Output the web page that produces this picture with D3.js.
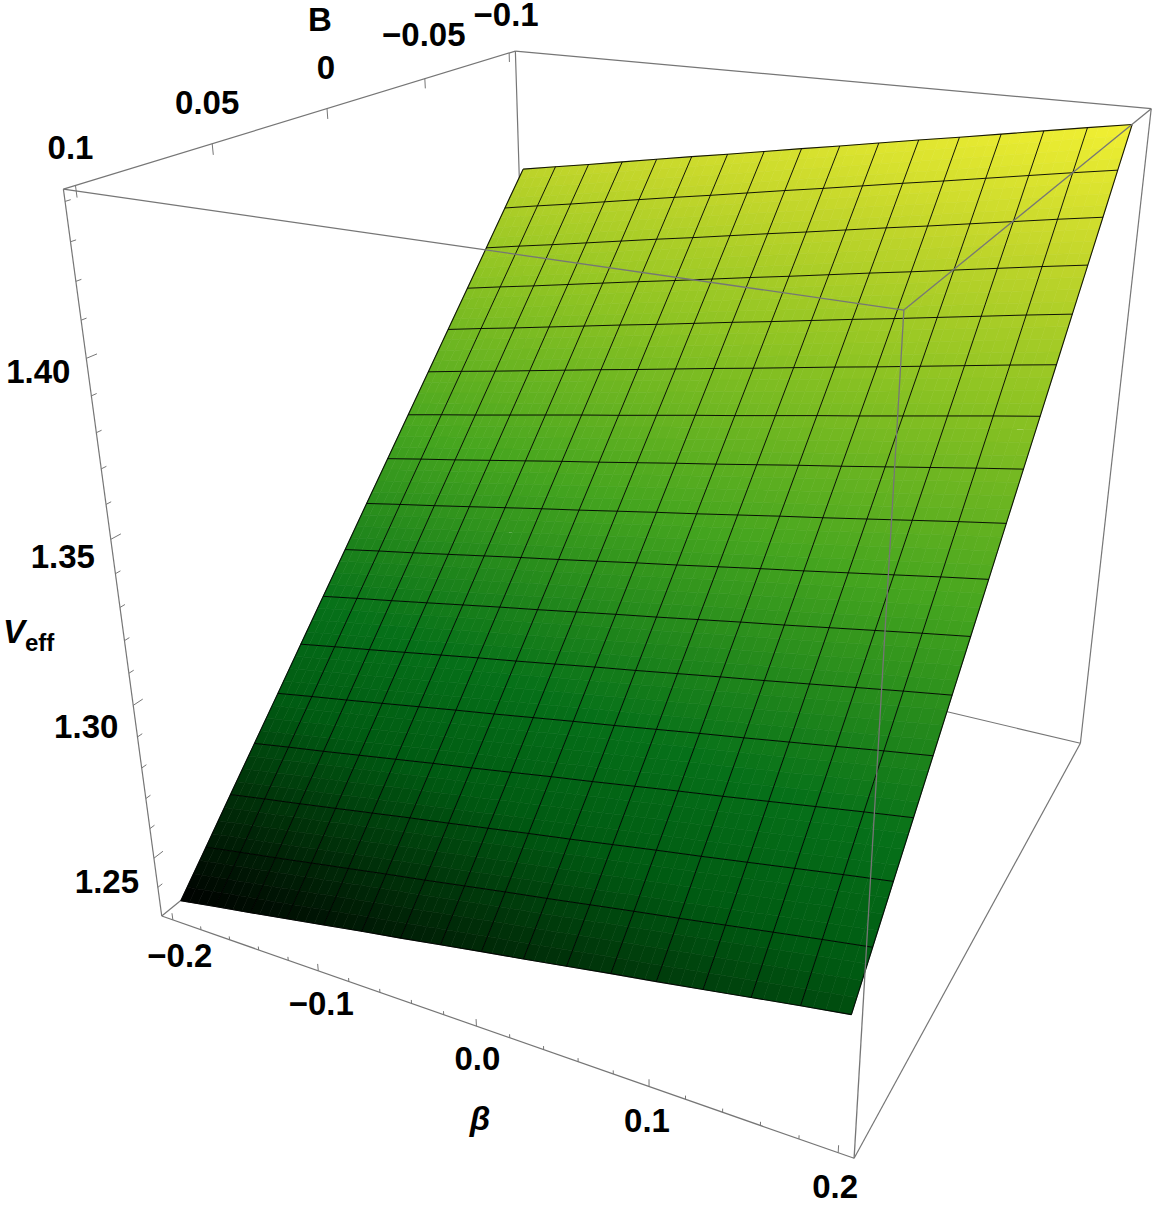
<!DOCTYPE html>
<html><head><meta charset="utf-8"><style>html,body{margin:0;background:#fff}svg{display:block}text{font-family:"Liberation Sans",Arial,sans-serif;font-weight:bold;fill:#000}</style>
<script src="https://d3js.org/d3.v7.min.js"></script></head><body><svg id="c" width="1152" height="1209"></svg>
<script>
// ---------- data ----------
const betaNodes=[-0.2,-0.175,-0.15,-0.125,-0.1,-0.075,-0.05,-0.025,0,0.025,0.05,0.075,0.1,0.125,0.15,0.175,0.2];
const bNodes=[-0.1,-0.0875,-0.075,-0.0625,-0.05,-0.0375,-0.025,-0.0125,0,0.0125,0.025,0.0375,0.05,0.0625,0.075,0.0875,0.1];
const vRow00=[1.4041,1.4063,1.4084,1.4106,1.4128,1.4150,1.4171,1.4193,1.4215,1.4236,1.4258,1.4280,1.4301,1.4323,1.4345,1.4367,1.4388];
const vRow01=[1.3935,1.3957,1.3978,1.4000,1.4022,1.4044,1.4065,1.4087,1.4109,1.4130,1.4152,1.4174,1.4195,1.4217,1.4239,1.4261,1.4282];
const vRow02=[1.3828,1.3850,1.3871,1.3893,1.3915,1.3937,1.3958,1.3980,1.4002,1.4023,1.4045,1.4067,1.4088,1.4110,1.4132,1.4154,1.4175];
const vRow03=[1.3722,1.3744,1.3765,1.3787,1.3809,1.3831,1.3852,1.3874,1.3896,1.3917,1.3939,1.3961,1.3982,1.4004,1.4026,1.4048,1.4069];
const vRow04=[1.3616,1.3638,1.3659,1.3681,1.3703,1.3725,1.3746,1.3768,1.3790,1.3811,1.3833,1.3855,1.3876,1.3898,1.3920,1.3942,1.3963];
const vRow05=[1.3509,1.3531,1.3552,1.3574,1.3596,1.3618,1.3639,1.3661,1.3683,1.3704,1.3726,1.3748,1.3769,1.3791,1.3813,1.3835,1.3856];
const vRow06=[1.3403,1.3425,1.3446,1.3468,1.3490,1.3512,1.3533,1.3555,1.3577,1.3598,1.3620,1.3642,1.3663,1.3685,1.3707,1.3729,1.3750];
const vRow07=[1.3297,1.3319,1.3340,1.3362,1.3384,1.3406,1.3427,1.3449,1.3471,1.3492,1.3514,1.3536,1.3557,1.3579,1.3601,1.3623,1.3644];
const vRow08=[1.3191,1.3213,1.3234,1.3256,1.3278,1.3300,1.3321,1.3343,1.3365,1.3386,1.3408,1.3430,1.3451,1.3473,1.3495,1.3517,1.3538];
const vRow09=[1.3084,1.3106,1.3127,1.3149,1.3171,1.3193,1.3214,1.3236,1.3258,1.3279,1.3301,1.3323,1.3344,1.3366,1.3388,1.3410,1.3431];
const vRow10=[1.2978,1.3000,1.3021,1.3043,1.3065,1.3087,1.3108,1.3130,1.3152,1.3173,1.3195,1.3217,1.3238,1.3260,1.3282,1.3304,1.3325];
const vRow11=[1.2872,1.2894,1.2915,1.2937,1.2959,1.2981,1.3002,1.3024,1.3046,1.3067,1.3089,1.3111,1.3132,1.3154,1.3176,1.3198,1.3219];
const vRow12=[1.2765,1.2787,1.2808,1.2830,1.2852,1.2874,1.2895,1.2917,1.2939,1.2960,1.2982,1.3004,1.3025,1.3047,1.3069,1.3091,1.3112];
const vRow13=[1.2659,1.2681,1.2702,1.2724,1.2746,1.2768,1.2789,1.2811,1.2833,1.2854,1.2876,1.2898,1.2919,1.2941,1.2963,1.2985,1.3006];
const vRow14=[1.2553,1.2575,1.2596,1.2618,1.2640,1.2662,1.2683,1.2705,1.2727,1.2748,1.2770,1.2792,1.2813,1.2835,1.2857,1.2879,1.2900];
const vRow15=[1.2446,1.2468,1.2489,1.2511,1.2533,1.2555,1.2576,1.2598,1.2620,1.2641,1.2663,1.2685,1.2706,1.2728,1.2750,1.2772,1.2793];
const vRow16=[1.2340,1.2362,1.2383,1.2405,1.2427,1.2449,1.2470,1.2492,1.2514,1.2535,1.2557,1.2579,1.2600,1.2622,1.2644,1.2666,1.2687];
const vGrid=[vRow00,vRow01,vRow02,vRow03,vRow04,vRow05,vRow06,vRow07,vRow08,vRow09,vRow10,vRow11,vRow12,vRow13,vRow14,vRow15,vRow16];
const betaMajor=[-0.2,-0.1,0,0.1,0.2], betaMajorLabels=["\u22120.2","\u22120.1","0.0","0.1","0.2"];
const betaMinor=[-0.18,-0.16,-0.14,-0.12,-0.08,-0.06,-0.04,-0.02,0.02,0.04,0.06,0.08,0.12,0.14,0.16,0.18];
const bMajor=[0.1,0.05,0,-0.05,-0.1], bMajorLabels=["0.1","0.05","0","\u22120.05","\u22120.1"];
const vMajor=[1.25,1.30,1.35,1.40], vMajorLabels=["1.25","1.30","1.35","1.40"];
const vMinor=[1.24,1.26,1.27,1.28,1.29,1.31,1.32,1.33,1.34,1.36,1.37,1.38,1.39,1.41,1.42,1.43,1.44];
const colorStops=[1.234,1.2545,1.275,1.296,1.3365,1.377,1.408,1.4388];
const colorValues=["#000000","#002d08","#005a12","#067019","#45a51f","#8fc423","#c3d62b","#f2f033"];

// ---------- camera: fitted to the box corners (unit cube -> page pixels) ----------
const anchors=[[0,1,1,63.4,189.3],[0,1,0,161.7,916],[0,0,1,515.4,51],[1,1,1,903.7,310],[1,1,0,854.3,1158.3],[1,0,1,1151.3,108.7],[1,0,0,1080.3,743.3]];
const A=[],rhs=[];
anchors.forEach(([x,y,z,u,v])=>{A.push([x,y,z,1,0,0,0,0,-u*x,-u*y,-u*z]);rhs.push(u);A.push([0,0,0,0,x,y,z,1,-v*x,-v*y,-v*z]);rhs.push(v);});
const n=11,M=d3.range(n).map(i=>d3.range(n+1).map(j=>j<n?d3.sum(A,r=>r[i]*r[j]):d3.sum(A,(r,k)=>r[i]*rhs[k])));
for(let i=0;i<n;i++){let p=i;for(let k=i;k<n;k++)if(Math.abs(M[k][i])>Math.abs(M[p][i]))p=k;[M[i],M[p]]=[M[p],M[i]];for(let k=0;k<n;k++)if(k!==i){const f=M[k][i]/M[i][i];for(let j=i;j<=n;j++)M[k][j]-=f*M[i][j];}}
const P=M.map((r,i)=>r[n]/r[i]);
const proj=(x,y,z)=>{const w=P[8]*x+P[9]*y+P[10]*z+1;return[(P[0]*x+P[1]*y+P[2]*z+P[3])/w,(P[4]*x+P[5]*y+P[6]*z+P[7])/w]};
const sx=d3.scaleLinear([-0.208,0.208],[0,1]),sy=d3.scaleLinear([-0.104,0.104],[0,1]),sz=d3.scaleLinear([1.23,1.443],[0,1]);
const pt=(beta,B,V)=>proj(sx(beta),sy(B),sz(V));
const color=d3.scaleLinear().domain(colorStops).range(colorValues).interpolate(d3.interpolateRgb);
const svg=d3.select('#c');
const line=d3.line();
const BOX='#767676';
const seg=(g,a,b,c,w)=>g.append('path').attr('d',line([a,b])).attr('fill','none').attr('stroke',c).attr('stroke-width',w);

// ---------- back of the box ----------
const back=svg.append('g');
[[[0,1,1],[0,0,1]],[[0,0,1],[1,0,1]],[[0,1,1],[0,1,0]],[[0,0,1],[0,0,0]],[[1,0,1],[1,0,0]],[[0,1,0],[0,0,0]],[[0,0,0],[1,0,0]],[[0,1,0],[1,1,0]],[[1,1,0],[1,0,0]]]
 .forEach(([a,b])=>seg(back,proj(...a),proj(...b),BOX,1.2));

// ---------- ticks ----------
const ticks=svg.append('g');
const tk=(p,q)=>seg(ticks,p,q,BOX,1);
betaMajor.forEach(b=>{const x=sx(b);tk(proj(x,1,0),proj(x,1,0.011));});
betaMinor.forEach(b=>{const x=sx(b);tk(proj(x,1,0),proj(x,1,0.0055));});
bMajor.forEach(b=>{const y=sy(b);tk(proj(0,y,1),proj(0,y,0.986));});
vMajor.forEach(v=>{const z=sz(v);tk(proj(0,1,z),proj(0,0.982,z));});
vMinor.forEach(v=>{const z=sz(v);tk(proj(0,1,z),proj(0,0.991,z));});

// ---------- surface ----------
const surf=svg.append('g');
const SUB=4;
const Vat=(i,j,f,g)=>{const r=vGrid;return (1-f)*(1-g)*r[j][i]+f*(1-g)*r[j][i+1]+(1-f)*g*r[j+1][i]+f*g*r[j+1][i+1]};
const at=(i,j,f,g)=>pt(betaNodes[i]+f*(betaNodes[i+1]-betaNodes[i]),bNodes[j]+g*(bNodes[j+1]-bNodes[j]),Vat(i,j,f,g));
const patches=[];
for(let j=0;j<16;j++)for(let i=0;i<16;i++)for(let a=0;a<SUB;a++)for(let b=0;b<SUB;b++){
  const f0=a/SUB,f1=(a+1)/SUB,g0=b/SUB,g1=(b+1)/SUB;
  patches.push({pts:[at(i,j,f0,g0),at(i,j,f1,g0),at(i,j,f1,g1),at(i,j,f0,g1)],c:color(Vat(i,j,(f0+f1)/2,(g0+g1)/2))});
}
surf.selectAll('path').data(patches).join('path')
 .attr('d',d=>line(d.pts)+'Z').attr('fill',d=>d.c).attr('stroke',d=>d.c).attr('stroke-width',0.6);

// ---------- mesh ----------
const mesh=svg.append('g').attr('fill','none').attr('stroke','#000');
vGrid.forEach((row,j)=>{mesh.append('path').attr('stroke-width',(j==0||j==16)?1.1:1).attr('stroke-opacity',0.9).attr('d',line(row.map((v,i)=>pt(betaNodes[i],bNodes[j],v))));});
betaNodes.forEach((b,i)=>{mesh.append('path').attr('stroke-width',(i==0||i==16)?1.1:1).attr('stroke-opacity',0.9).attr('d',line(vGrid.map((r,j)=>pt(b,bNodes[j],r[i]))));});

// ---------- front of the box ----------
const front=svg.append('g');
[[[0,1,1],[1,1,1]],[[1,0,1],[1,1,1]],[[1,1,1],[1,1,0]]].forEach(([a,b])=>seg(front,proj(...a),proj(...b),BOX,1.3));

// ---------- labels ----------
const lab=svg.append('g').attr('text-anchor','middle').attr('font-size',33);
const put=(s,x,y)=>lab.append('text').attr('x',x).attr('y',y+12).text(s);
const betaOff=[[7,35],[3,32],[1,32],[-2,33],[-3,33]];
betaMajor.forEach((b,i)=>{const [x,y]=pt(b,0.104,1.23);put(betaMajorLabels[i],x+betaOff[i][0],y+betaOff[i][1]);});
const bOff=[[-5,-39],[-5,-42],[-1,-42],[-1,-45],[-3,-39]];
bMajor.forEach((b,i)=>{const [x,y]=pt(-0.208,b,1.443);put(bMajorLabels[i],x+bOff[i][0],y+bOff[i][1]);});
const vOff=[[-47,23],[-47,21],[-48,17],[-48,13]];
vMajor.forEach((v,i)=>{const [x,y]=pt(-0.208,0.104,v);put(vMajorLabels[i],x+vOff[i][0],y+vOff[i][1]);});
put('B',320,19);
lab.append('text').attr('x',480).attr('y',1130).attr('font-style','italic').text('\u03b2');
const ve=svg.append('text').attr('x',3).attr('y',643).attr('font-size',33);
ve.append('tspan').attr('font-style','italic').text('V');
ve.append('tspan').attr('font-size',24).attr('dy',8).attr('dx',0).text('eff');
</script></body></html>
